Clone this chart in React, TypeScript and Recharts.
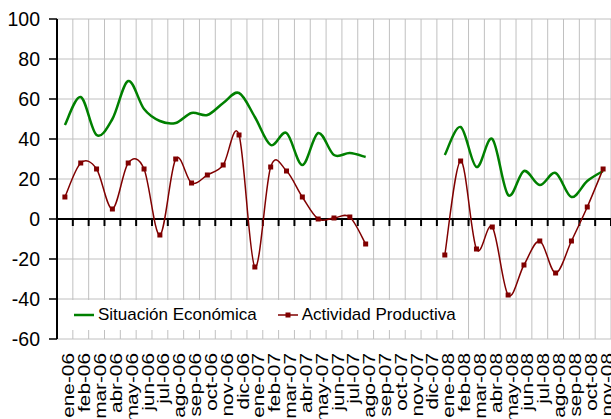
import { LineChart, Line, XAxis, YAxis, CartesianGrid, ReferenceLine, Legend } from 'recharts'

const months = [
  'ene-06', 'feb-06', 'mar-06', 'abr-06', 'may-06', 'jun-06', 'jul-06', 'ago-06', 'sep-06', 'oct-06', 'nov-06', 'dic-06',
  'ene-07', 'feb-07', 'mar-07', 'abr-07', 'may-07', 'jun-07', 'jul-07', 'ago-07', 'sep-07', 'oct-07', 'nov-07', 'dic-07',
  'ene-08', 'feb-08', 'mar-08', 'abr-08', 'may-08', 'jun-08', 'jul-08', 'ago-08', 'sep-08', 'oct-08', 'nov-08',
]

const situacionEconomica = [
  47, 61, 42, 50, 69, 55, 49, 48, 53, 52, 58, 63,
  51, 37, 43, 27, 43, 32, 33, 31, null, null, null, null,
  32, 46, 26, 40, 12, 24, 17, 23, 11, 19, 24,
]

const actividadProductiva = [
  11, 28, 25, 5, 28, 25, -8, 30, 18, 22, 27, 42,
  -24, 26, 24, 11, 0, 0.5, 1, -12.5, null, null, null, null,
  -18, 29, -15, -4, -38, -23, -11, -27, -11, 6, 25,
]

const yTicks = [-60, -40, -20, 0, 20, 40, 60, 80, 100]
const legendOrder = ['situacion', 'actividad']

const data = months.map((mes, i) => ({
  mes,
  situacion: situacionEconomica[i],
  actividad: actividadProductiva[i],
}))

const FONT = 'Liberation Sans, Arial, sans-serif'

// smoothing like the spreadsheet one (catmull-rom, tension 1/6)
const excelCurve = (ctx: any) => {
  let pts: number[][] = []
  return {
    areaStart() {},
    areaEnd() {},
    lineStart() { pts = [] },
    point(x: number, y: number) { pts.push([x, y]) },
    lineEnd() {
      if (!pts.length) return
      ctx.moveTo(pts[0][0], pts[0][1])
      for (let i = 0; i < pts.length - 1; i++) {
        const p0 = pts[Math.max(i - 1, 0)]
        const p1 = pts[i]
        const p2 = pts[i + 1]
        const p3 = pts[Math.min(i + 2, pts.length - 1)]
        ctx.bezierCurveTo(
          p1[0] + (p2[0] - p0[0]) / 6, p1[1] + (p2[1] - p0[1]) / 6,
          p2[0] - (p3[0] - p1[0]) / 6, p2[1] - (p3[1] - p1[1]) / 6,
          p2[0], p2[1],
        )
      }
    },
  }
}

const MonthTick = ({ x, y, payload }: any) => (
  <g transform={`translate(${x + 9.5},${y + 14})`}>
    <text transform="rotate(-90) scale(1.3,1)" textAnchor="end" fontSize={16} fontFamily={FONT} fill="#000">
      {payload.value}
    </text>
  </g>
)

const SquareDot = ({ cx, cy, index }: any) => {
  if (cy == null || cx == null) return <g key={index} />
  return <rect key={index} x={cx - 2.5} y={cy - 2.5} width={5} height={5} fill="#800000" />
}

// zero line with the little category ticks hanging below it
const ZeroAxis = ({ x1, x2, y1 }: any) => {
  const step = (x2 - x1) / months.length
  return (
    <g>
      <line x1={x1} x2={x2} y1={y1} y2={y1} stroke="#000" strokeWidth={2} />
      {months.map((m, i) => (
        <line key={m} x1={x1 + (i + 1) * step} x2={x1 + (i + 1) * step} y1={y1} y2={y1 + 7} stroke="#000" strokeWidth={2} />
      ))}
    </g>
  )
}

const LegendBox = ({ payload }: any) => {
  const items = [...(payload || [])].sort((a: any, b: any) => legendOrder.indexOf(a.dataKey) - legendOrder.indexOf(b.dataKey))
  return (
    <div style={{ display: 'flex', alignItems: 'center', height: 30, paddingLeft: 8, fontFamily: FONT, fontSize: 17, color: '#000' }}>
      {items.map((entry: any, i: number) => (
        <div key={entry.value} style={{ display: 'flex', alignItems: 'center', marginRight: i === 0 ? 21 : 0 }}>
          <svg width={20} height={10} style={{ marginRight: 4 }}>
            <line x1={0} x2={20} y1={5} y2={5} stroke={entry.color} strokeWidth={entry.dataKey === 'actividad' ? 1.5 : 2.5} />
            {entry.dataKey === 'actividad' && <rect x={7.5} y={2.5} width={5} height={5} fill={entry.color} />}
          </svg>
          <span>{entry.value}</span>
        </div>
      ))}
    </div>
  )
}

const App = () => {
  return (
    <div style={{ position: 'absolute', left: 0, top: 0 }}>
      <LineChart width={611} height={419} data={data} margin={{ top: 19, right: 0, bottom: 0, left: 0 }}>
        <CartesianGrid
          stroke="#c0c0c0"
          horizontalValues={yTicks}
          verticalCoordinatesGenerator={({ offset }: any) =>
            months.map((_, i) => offset.left + (i * offset.width) / months.length).concat(offset.left + offset.width)
          }
        />
        <XAxis
          dataKey="mes"
          interval={0}
          axisLine={false}
          tickLine={false}
          tickSize={0}
          tickMargin={0}
          height={80}
          padding={{ left: 7.9, right: 7.9 }}
          tick={<MonthTick />}
        />
        <YAxis
          domain={[-60, 100]}
          ticks={yTicks}
          interval={0}
          width={57}
          axisLine={{ stroke: '#000', strokeWidth: 2 }}
          tickLine={{ stroke: '#000', strokeWidth: 1.5 }}
          tickSize={8}
          tickMargin={9}
          tick={{ fill: '#000', fontSize: 19.5, fontFamily: FONT }}
        />
        <ReferenceLine y={0} stroke="#000" strokeWidth={2} shape={ZeroAxis} />
        <Legend
          verticalAlign="middle"
          align="center"
          layout="horizontal"
          content={<LegendBox />}
          wrapperStyle={{ left: 66, top: 300, width: 402, height: 30, backgroundColor: '#fff' }}
        />
        <Line
          dataKey="situacion"
          name="Situación Económica"
          type={excelCurve as any}
          stroke="#008000"
          strokeWidth={2.5}
          dot={false}
          isAnimationActive={false}
        />
        <Line
          dataKey="actividad"
          name="Actividad Productiva"
          type={excelCurve as any}
          stroke="#800000"
          strokeWidth={1.5}
          dot={<SquareDot />}
          activeDot={false}
          isAnimationActive={false}
        />
      </LineChart>
    </div>
  )
}

export default App
